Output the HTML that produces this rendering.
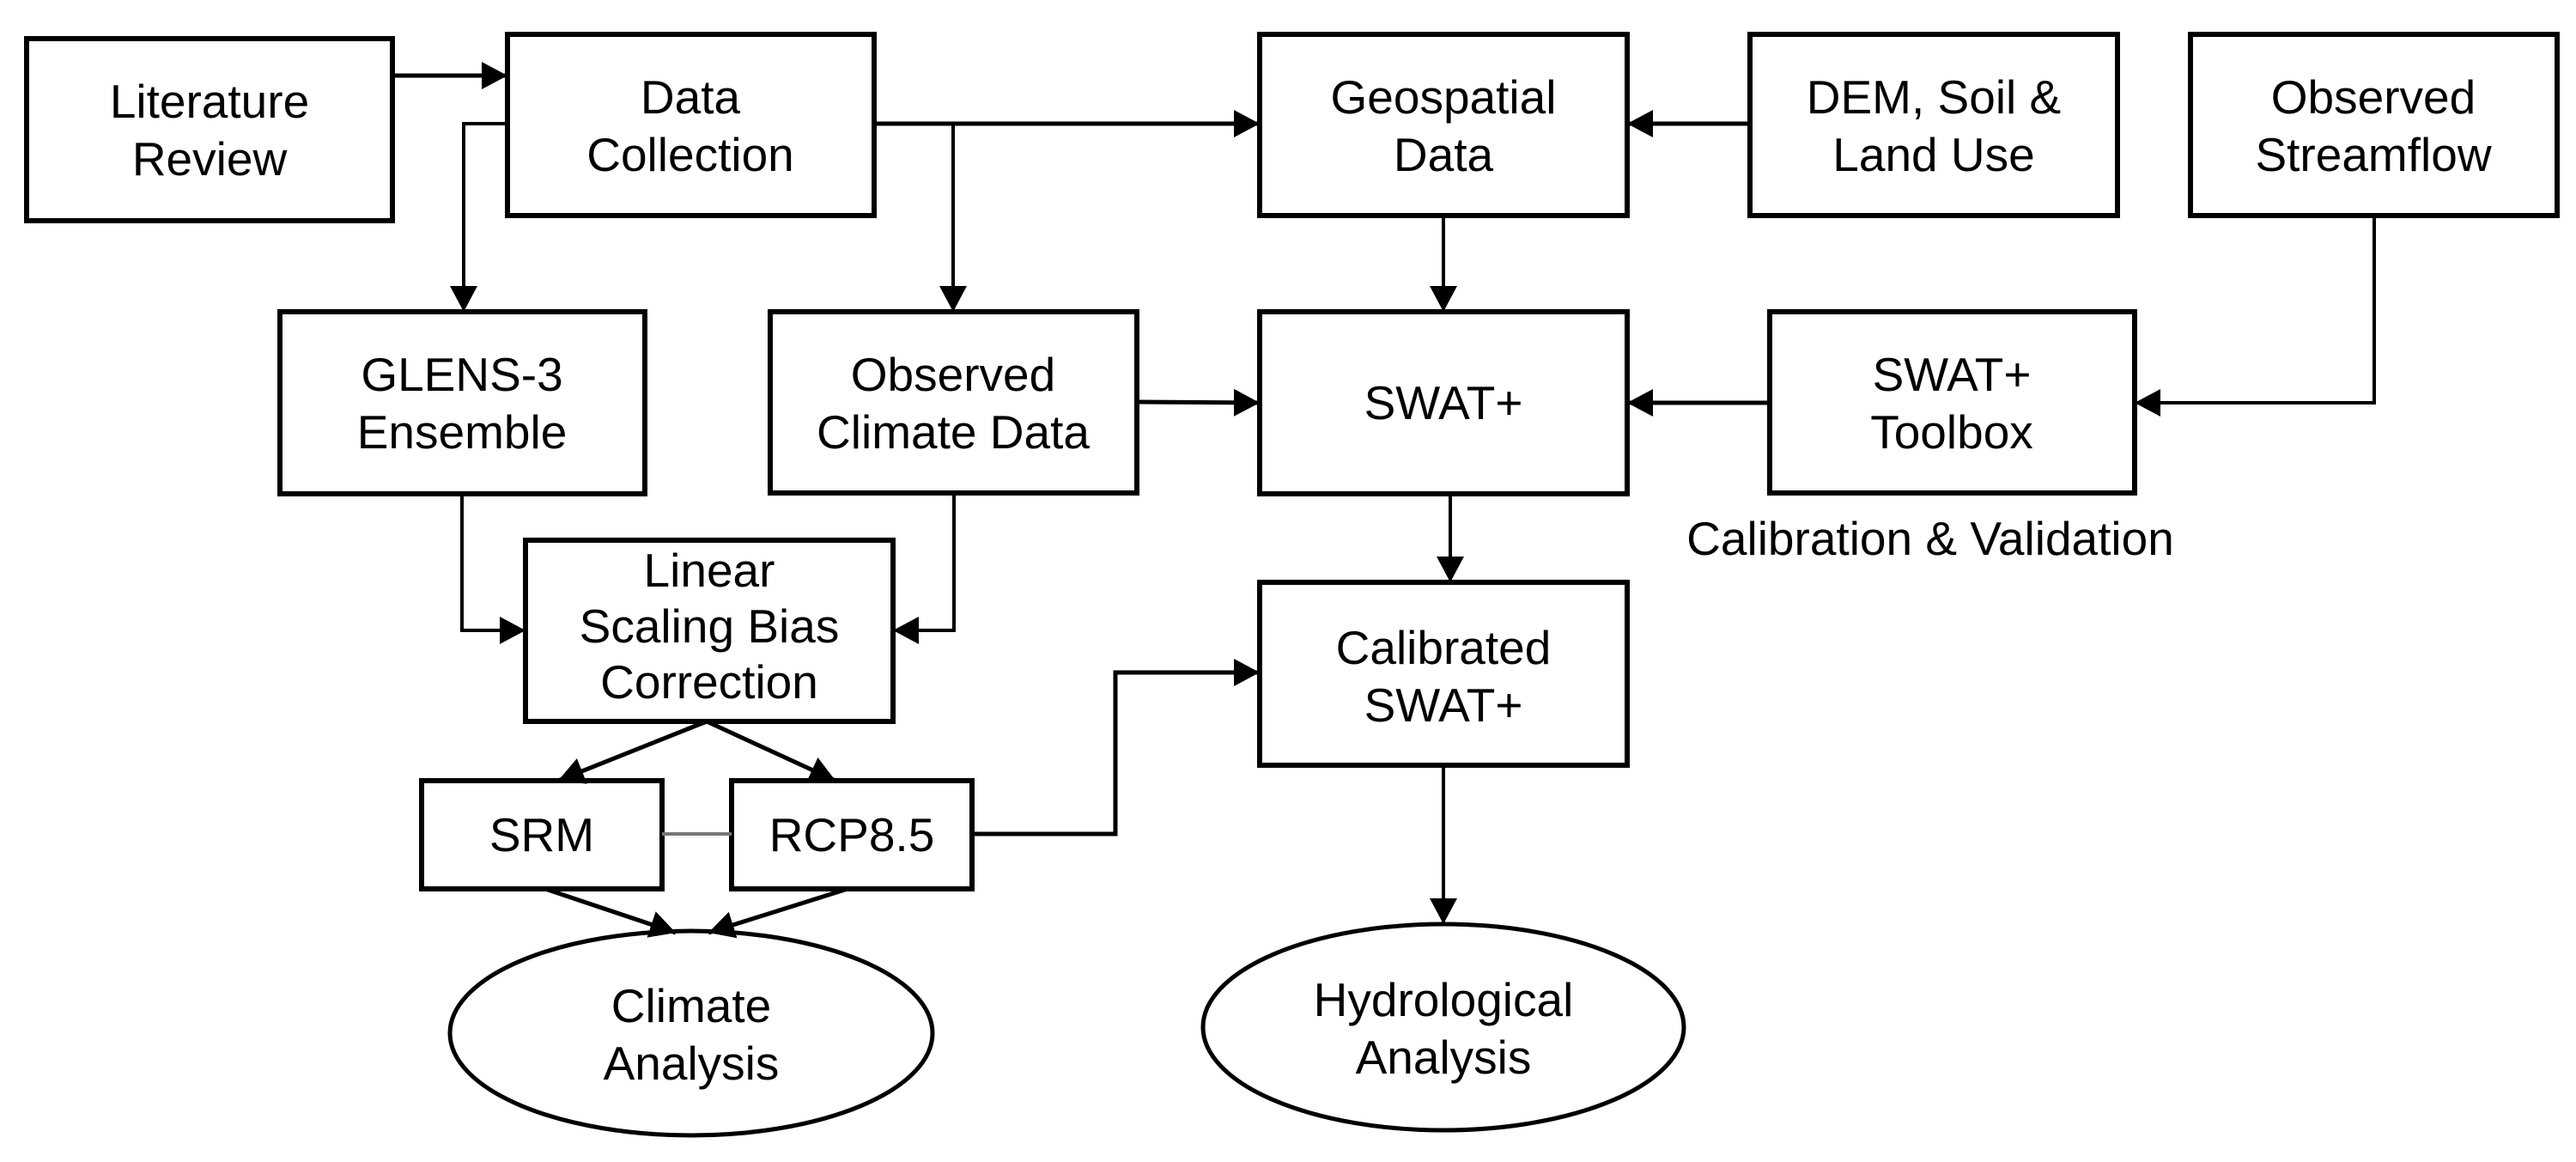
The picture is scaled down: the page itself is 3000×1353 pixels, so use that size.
<!DOCTYPE html>
<html><head><meta charset="utf-8"><style>html,body{margin:0;padding:0;background:#fff}svg{display:block}text{font-family:"Liberation Sans",Arial,sans-serif;font-size:55px;fill:#000;text-anchor:middle}</style></head>
<body>
<svg width="3000" height="1353" viewBox="0 0 3000 1353" xmlns="http://www.w3.org/2000/svg">
<defs>
<marker id="a" markerWidth="30" markerHeight="32" refX="30" refY="16" orient="auto" markerUnits="userSpaceOnUse"><path d="M0,0 L30,16 L0,32 Z" fill="#000"/></marker>
</defs>
<g fill="#fff" stroke="#000" stroke-width="6">
<rect x="31" y="45" width="426" height="212"/>
<rect x="591" y="40" width="427" height="211"/>
<rect x="1467" y="40" width="428" height="211"/>
<rect x="2038" y="40" width="428" height="211"/>
<rect x="2551" y="40" width="427" height="211"/>
<rect x="326" y="363" width="425" height="212"/>
<rect x="897" y="363" width="427" height="211"/>
<rect x="1467" y="363" width="428" height="212"/>
<rect x="2061" y="363" width="425" height="211"/>
<rect x="612" y="629" width="428" height="211"/>
<rect x="1467" y="678" width="428" height="213"/>
<rect x="491" y="909" width="280" height="126"/>
<rect x="852" y="909" width="280" height="126"/>
<ellipse cx="805" cy="1203" rx="281" ry="119" stroke-width="5"/>
<ellipse cx="1681" cy="1196" rx="280" ry="120" stroke-width="5"/>
</g>
<g fill="none" stroke="#000" stroke-width="5">
<line x1="457" y1="88" x2="591" y2="88" marker-end="url(#a)"/>
<line x1="1018" y1="144" x2="1467" y2="144" marker-end="url(#a)"/>
<polyline points="591,144 540,144 540,363" stroke-width="4" marker-end="url(#a)"/>
<line x1="1110" y1="144" x2="1110" y2="363" stroke-width="4" marker-end="url(#a)"/>
<line x1="2038" y1="144" x2="1895" y2="144" marker-end="url(#a)"/>
<line x1="1681" y1="251" x2="1681" y2="363" stroke-width="4" marker-end="url(#a)"/>
<line x1="1324" y1="468" x2="1467" y2="469" marker-end="url(#a)"/>
<line x1="2061" y1="469" x2="1895" y2="469" marker-end="url(#a)"/>
<polyline points="2765,251 2765,469 2486,469" stroke-width="4" marker-end="url(#a)"/>
<line x1="1689" y1="575" x2="1689" y2="678" stroke-width="4" marker-end="url(#a)"/>
<polyline points="538,575 538,734 612,734" stroke-width="4" marker-end="url(#a)"/>
<polyline points="1111,574 1111,734 1040,734" stroke-width="4" marker-end="url(#a)"/>
<line x1="823" y1="840" x2="650" y2="909" marker-end="url(#a)"/>
<line x1="823" y1="840" x2="973" y2="909" marker-end="url(#a)"/>
<line x1="771" y1="971" x2="852" y2="971" stroke="#777" stroke-width="4"/>
<polyline points="1132,971 1299,971 1299,783 1467,783" marker-end="url(#a)"/>
<line x1="635" y1="1035" x2="787" y2="1086" marker-end="url(#a)"/>
<line x1="987" y1="1035" x2="825" y2="1086" marker-end="url(#a)"/>
<line x1="1681" y1="891" x2="1681" y2="1076" stroke-width="4" marker-end="url(#a)"/>
</g>
<text x="244" y="137">Literature</text><text x="244" y="204">Review</text>
<text x="804" y="132">Data</text><text x="804" y="199">Collection</text>
<text x="1681" y="132">Geospatial</text><text x="1681" y="199">Data</text>
<text x="2252" y="132">DEM, Soil &amp;</text><text x="2252" y="199">Land Use</text>
<text x="2764" y="132">Observed</text><text x="2764" y="199">Streamflow</text>
<text x="538" y="455">GLENS-3</text><text x="538" y="522">Ensemble</text>
<text x="1110" y="455">Observed</text><text x="1110" y="522">Climate Data</text>
<text x="1681" y="488">SWAT+</text>
<text x="2273" y="455">SWAT+</text><text x="2273" y="522">Toolbox</text>
<text x="2248" y="646">Calibration &amp; Validation</text>
<text x="826" y="683">Linear</text><text x="826" y="748">Scaling Bias</text><text x="826" y="813">Correction</text>
<text x="1681" y="773">Calibrated</text><text x="1681" y="840">SWAT+</text>
<text x="631" y="991">SRM</text>
<text x="992" y="991">RCP8.5</text>
<text x="805" y="1190">Climate</text><text x="805" y="1257">Analysis</text>
<text x="1681" y="1183">Hydrological</text><text x="1681" y="1250">Analysis</text>
</svg>
</body></html>
